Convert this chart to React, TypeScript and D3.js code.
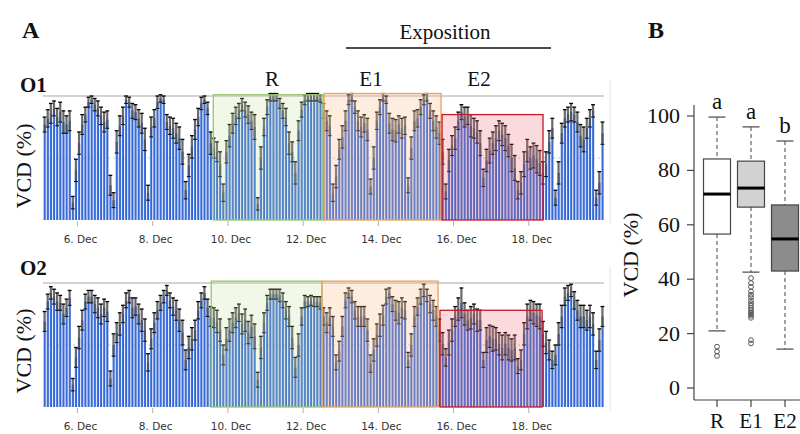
import React from "react";
import * as d3 from "d3";

// ---------- Panel A data (2-hourly bins, 5 Dec 02:00 -> 20 Dec 00:00) ----------
const startTime = new Date(2015, 11, 5, 2);
const endTime = new Date(2015, 11, 20, 0);
const tickDays = [6, 8, 10, 12, 14, 16, 18];

const o1Values = [
  77, 82, 86, 90, 83, 87, 79, 77, 80, 14, 40,
  62, 77, 85, 95, 97, 93, 90, 84, 79, 81, 28, 16,
  63, 76, 84, 97, 95, 88, 87, 82, 78, 65, 22, 75,
  82, 95, 98, 97, 79, 76, 74, 70, 66, 55, 24, 44,
  59, 73, 83, 94, 97, 90, 62, 58, 55, 45, 22, 55,
  68, 78, 84, 88, 93, 89, 85, 80, 75, 13, 50, 75,
  91, 99, 99, 99, 94, 88, 83, 62, 55, 38, 72, 89,
  97, 99, 99, 99, 99, 98, 88, 80, 76, 22, 35, 57,
  67, 80, 97, 99, 91, 80, 75, 78, 73, 27, 50, 80,
  91, 99, 97, 78, 73, 72, 77, 74, 76, 28, 58, 80,
  82, 91, 97, 99, 88, 80, 75, 70, 55, 23, 48, 60,
  66, 80, 87, 83, 84, 76, 74, 71, 62, 34, 48, 56,
  62, 66, 72, 69, 66, 60, 50, 42, 24, 30, 45, 56,
  50, 52, 49, 46, 38, 45, 63, 74, 18, 38, 70, 82,
  85, 87, 85, 79, 68, 65, 74, 82, 88, 18, 30, 70,
];
const o1Errors = [
  6, 7, 8, 6, 7, 8, 9, 7, 8, 5, 9,
  9, 8, 6, 4, 3, 5, 6, 7, 8, 7, 8, 6,
  9, 8, 7, 3, 4, 6, 6, 7, 8, 9, 6, 8,
  7, 5, 3, 3, 6, 7, 8, 8, 9, 10, 7, 9,
  9, 8, 7, 5, 3, 5, 9, 8, 8, 10, 7, 9,
  9, 8, 7, 6, 5, 6, 7, 7, 10, 5, 9, 7,
  6, 3, 3, 3, 4, 6, 7, 9, 8, 9, 8, 6,
  4, 3, 3, 3, 3, 3, 6, 8, 8, 7, 9, 8,
  9, 8, 4, 3, 5, 8, 8, 7, 9, 6, 9, 7,
  6, 3, 3, 8, 9, 9, 7, 8, 7, 6, 9, 8,
  7, 6, 4, 3, 6, 8, 9, 9, 10, 6, 9, 8,
  9, 7, 6, 8, 7, 9, 8, 9, 10, 7, 9, 10,
  9, 10, 8, 9, 10, 9, 11, 10, 7, 9, 10, 9,
  9, 10, 11, 10, 9, 10, 9, 8, 6, 9, 8, 7,
  6, 7, 6, 8, 9, 10, 8, 7, 5, 6, 9, 9,
];
const o2Values = [
  69, 85, 92, 89, 85, 84, 75, 80, 88, 18, 40,
  56, 70, 85, 89, 89, 83, 80, 75, 80, 77, 23, 50,
  60, 67, 75, 86, 89, 80, 81, 75, 70, 62, 36, 55,
  68, 78, 84, 89, 94, 86, 81, 78, 70, 60, 38, 48,
  55, 62, 78, 86, 92, 80, 73, 72, 69, 62, 42, 55,
  62, 68, 72, 76, 67, 70, 60, 65, 57, 22, 48, 68,
  84, 91, 91, 91, 90, 86, 78, 73, 56, 32, 50, 73,
  85, 85, 86, 85, 85, 84, 73, 68, 73, 65, 36, 45,
  65, 86, 92, 89, 78, 73, 73, 73, 62, 35, 46, 58,
  66, 74, 89, 92, 83, 78, 76, 80, 78, 38, 50, 73,
  81, 89, 94, 90, 83, 78, 73, 62, 51, 40, 52, 62,
  73, 79, 84, 75, 70, 72, 75, 70, 70, 38, 54, 57,
  55, 55, 51, 48, 51, 48, 46, 48, 33, 38, 59, 73,
  78, 76, 74, 73, 59, 52, 46, 38, 42, 59, 73, 89,
  92, 94, 86, 78, 73, 73, 70, 73, 67, 38, 54, 73,
];
const o2Errors = [
  8, 6, 5, 6, 7, 6, 8, 7, 6, 5, 8,
  9, 8, 6, 5, 5, 7, 8, 8, 7, 8, 6, 9,
  8, 9, 7, 6, 5, 8, 7, 8, 9, 9, 7, 8,
  8, 7, 6, 5, 4, 6, 7, 8, 9, 10, 8, 9,
  9, 8, 7, 6, 5, 7, 8, 8, 9, 9, 8, 9,
  9, 8, 8, 7, 8, 9, 9, 9, 10, 6, 9, 8,
  6, 4, 4, 4, 5, 6, 7, 8, 9, 8, 9, 7,
  5, 4, 4, 4, 4, 5, 7, 8, 7, 8, 6, 8,
  8, 6, 4, 5, 7, 8, 8, 8, 9, 7, 9, 9,
  9, 8, 6, 4, 6, 8, 9, 8, 7, 6, 9, 8,
  7, 6, 5, 5, 7, 8, 8, 9, 9, 7, 10, 9,
  8, 9, 12, 9, 8, 9, 8, 9, 8, 6, 10, 9,
  10, 9, 9, 10, 9, 10, 9, 10, 6, 8, 9, 10,
  8, 9, 9, 10, 10, 9, 8, 7, 8, 9, 9, 7,
  6, 5, 7, 8, 9, 9, 8, 9, 9, 7, 9, 8,
];

const regionKeys = ["R", "E1", "E2"];
const o1RegionStart = ["2015-12-09T14:40", "2015-12-12T13:20", "2015-12-15T16:40"];
const o1RegionEnd = ["2015-12-12T12:40", "2015-12-15T16:00", "2015-12-18T09:05"];
const o1RegionTop = [101, 102, 85];
const o2RegionStart = ["2015-12-09T13:20", "2015-12-12T12:00", "2015-12-15T15:20"];
const o2RegionEnd = ["2015-12-12T12:00", "2015-12-15T14:05", "2015-12-18T08:30"];
const o2RegionTop = [101.5, 101.5, 78];

// ---------- Panel B data ----------
const groups = ["R", "E1", "E2"];
const boxLow = [21, 42.6, 14.3];
const boxQ1 = [56.6, 66.5, 43];
const boxMedian = [71.3, 73.5, 54.8];
const boxQ3 = [84.2, 83.4, 67.3];
const boxHigh = [99.6, 96, 90.8];
const outliersR = [15.2, 13.4, 11.8];
const outliersE1 = [40.4, 38.6, 37.2, 35.5, 34.3, 33.4, 32.2, 31.2, 30.3, 29.4, 28.6, 27.8, 27.2, 26.6, 25.8, 17.6, 16.4];
const outliersE2: number[] = [];
const groupLetters = ["a", "a", "b"];
const bTicks = [0, 20, 40, 60, 80, 100];

const regionStyle: Record<string, { fill: string; stroke: string }> = {
  R: { fill: "rgba(190,225,150,0.22)", stroke: "#93c86a" },
  E1: { fill: "rgba(250,185,140,0.28)", stroke: "#efa05a" },
  E2: { fill: "rgba(235,100,110,0.24)", stroke: "#c8182e" },
};

const serif = "'Liberation Serif', 'Times New Roman', serif";
const sans = "'DejaVu Sans', Verdana, sans-serif";

const x = d3.scaleTime().domain([startTime, endTime]).range([43, 604]);
const twoH = 2 * 3600 * 1000;

function BarPanel(props: {
  values: number[];
  errors: number[];
  starts: string[];
  ends: string[];
  tops: number[];
  y0: number;
  y1: number;
}) {
  const { values, errors, starts, ends, tops, y0, y1 } = props;
  const y = d3.scaleLinear().domain([0, 100]).range([y0, y1]);
  const [xMin, xMax] = x.range();
  return (
    <g>
      <line x1={xMin} x2={xMax} y1={y(100)} y2={y(100)} stroke="#c4c4c4" strokeWidth={1.6} />
      <line x1={xMin} x2={xMax} y1={y(50)} y2={y(50)} stroke="#c8c8c8" strokeWidth={1} strokeDasharray="2,3" />
      <line x1={610} x2={610} y1={y1 - 16} y2={y0 + 4} stroke="#e4e4e4" strokeWidth={1} />
      {values.map((v, i) => {
        const t0 = new Date(startTime.getTime() + i * twoH);
        const t1 = new Date(t0.getTime() + twoH);
        const a = x(t0);
        const b = x(t1);
        return (
          <rect key={"b" + i} x={a + 0.35} width={b - a - 0.8} y={y(v)} height={y(0) - y(v)} fill="url(#barGrad)" />
        );
      })}
      {values.map((v, i) => {
        const t0 = new Date(startTime.getTime() + i * twoH);
        const cx = x(new Date(t0.getTime() + twoH / 2));
        const e = errors[i];
        const yt = y(v + e);
        const yb = y(v - e);
        return (
          <g key={"e" + i}>
            <rect x={cx - 1.1} width={2.2} y={yt} height={yb - yt} fill="#505050" opacity={0.85} />
            <line x1={cx - 1.9} x2={cx + 1.9} y1={yt} y2={yt} stroke="#000" strokeWidth={1.3} />
            <line x1={cx - 1.9} x2={cx + 1.9} y1={yb} y2={yb} stroke="#111" strokeWidth={1.1} />
          </g>
        );
      })}
      {regionKeys.map((k, i) => {
        const a = x(new Date(starts[i]));
        const b = x(new Date(ends[i]));
        const st = regionStyle[k];
        return (
          <rect key={"r" + k} x={a} width={b - a} y={y(tops[i])} height={y(0) - y(tops[i])} fill={st.fill} stroke={st.stroke} strokeWidth={1.3} />
        );
      })}
      {tickDays.map((d) => {
        const tx = x(new Date(2015, 11, d));
        return (
          <g key={"t" + d}>
            <line x1={tx} x2={tx} y1={y0 + 1} y2={y0 + 6} stroke="#b0b0b0" />
            <text x={tx + 3} y={y0 + 23} textAnchor="middle" fontFamily={sans} fontSize={10.5} fill="#333">
              {d + ". Dec"}
            </text>
          </g>
        );
      })}
    </g>
  );
}

function BoxPanel() {
  const y = d3.scaleLinear().domain([0, 100]).range([388, 116]);
  const xp = d3.scalePoint<string>().domain(groups).range([717, 785]);
  const w = 27;
  const cap = 17;
  const fills = ["#ffffff", "#d2d2d2", "#8c8c8c"];
  const outs = [outliersR, outliersE1, outliersE2];
  return (
    <g>
      <line x1={694} x2={694} y1={105} y2={400} stroke="#444" strokeWidth={1.2} />
      <line x1={694} x2={800} y1={400} y2={400} stroke="#444" strokeWidth={1.2} />
      {bTicks.map((t) => (
        <g key={"bt" + t}>
          <line x1={687} x2={694} y1={y(t)} y2={y(t)} stroke="#444" strokeWidth={1.2} />
          <text x={680} y={y(t) + 7} textAnchor="end" fontFamily={serif} fontSize={22} fill="#111">
            {t}
          </text>
        </g>
      ))}
      {groups.map((g, i) => {
        const cx = xp(g) as number;
        return (
          <g key={"g" + g}>
            <line x1={cx} x2={cx} y1={y(boxHigh[i])} y2={y(boxQ3[i])} stroke="#666" strokeWidth={1.2} strokeDasharray="4,3" />
            <line x1={cx} x2={cx} y1={y(boxQ1[i])} y2={y(boxLow[i])} stroke="#666" strokeWidth={1.2} strokeDasharray="4,3" />
            <line x1={cx - cap / 2} x2={cx + cap / 2} y1={y(boxHigh[i])} y2={y(boxHigh[i])} stroke="#555" strokeWidth={1.3} />
            <line x1={cx - cap / 2} x2={cx + cap / 2} y1={y(boxLow[i])} y2={y(boxLow[i])} stroke="#555" strokeWidth={1.3} />
            <rect x={cx - w / 2} width={w} y={y(boxQ3[i])} height={y(boxQ1[i]) - y(boxQ3[i])} fill={fills[i]} stroke="#444" strokeWidth={1.2} />
            <line x1={cx - w / 2} x2={cx + w / 2} y1={y(boxMedian[i])} y2={y(boxMedian[i])} stroke="#000" strokeWidth={3} />
            {outs[i].map((o, j) => (
              <circle key={j} cx={cx} cy={y(o)} r={2.4} fill="none" stroke="#555" strokeWidth={1} />
            ))}
            <line x1={cx} x2={cx} y1={400} y2={407} stroke="#444" strokeWidth={1.2} />
            <text x={cx} y={428} textAnchor="middle" fontFamily={serif} fontSize={21} fill="#111">
              {g}
            </text>
            <text x={cx} y={y(boxHigh[i]) - 8} textAnchor="middle" fontFamily={serif} fontSize={23} fill="#111">
              {groupLetters[i]}
            </text>
          </g>
        );
      })}
      <text transform="translate(638,255) rotate(-90)" textAnchor="middle" fontFamily={serif} fontSize={22} fill="#111">
        VCD (%)
      </text>
    </g>
  );
}

export default function App() {
  return (
    <svg width={800} height={434} viewBox="0 0 800 434" style={{ position: "absolute", left: 0, top: 0, background: "#fff" }}>
      <defs>
        <linearGradient id="barGrad" x1="0" x2="1" y1="0" y2="0">
          <stop offset="0" stopColor="#9ab8f2" />
          <stop offset="0.35" stopColor="#3f74e0" />
          <stop offset="1" stopColor="#2b58c6" />
        </linearGradient>
      </defs>
      <rect width={800} height={434} fill="#fff" />
      <text x={22} y={38} fontFamily={serif} fontWeight="bold" fontSize={24} fill="#111">A</text>
      <text x={648} y={38} fontFamily={serif} fontWeight="bold" fontSize={24} fill="#111">B</text>
      <text x={445} y={39} textAnchor="middle" fontFamily={serif} fontSize={21} fill="#111">Exposition</text>
      <line x1={346} x2={551} y1={48} y2={48} stroke="#111" strokeWidth={1.3} />
      <text x={272} y={86} textAnchor="middle" fontFamily={serif} fontSize={21} fill="#111">R</text>
      <text x={371} y={86} textAnchor="middle" fontFamily={serif} fontSize={21} fill="#111">E1</text>
      <text x={479} y={86} textAnchor="middle" fontFamily={serif} fontSize={21} fill="#111">E2</text>
      <text x={20} y={92} fontFamily={serif} fontWeight="bold" fontSize={21} fill="#111">O1</text>
      <text x={20} y={275} fontFamily={serif} fontWeight="bold" fontSize={21} fill="#111">O2</text>
      <text transform="translate(31,166) rotate(-90)" textAnchor="middle" fontFamily={serif} fontSize={22} fill="#111">VCD (%)</text>
      <text transform="translate(31,351) rotate(-90)" textAnchor="middle" fontFamily={serif} fontSize={22} fill="#111">VCD (%)</text>
      <BarPanel values={o1Values} errors={o1Errors} starts={o1RegionStart} ends={o1RegionEnd} tops={o1RegionTop} y0={220} y1={96} />
      <BarPanel values={o2Values} errors={o2Errors} starts={o2RegionStart} ends={o2RegionEnd} tops={o2RegionTop} y0={407} y1={283} />
      <BoxPanel />
    </svg>
  );
}
